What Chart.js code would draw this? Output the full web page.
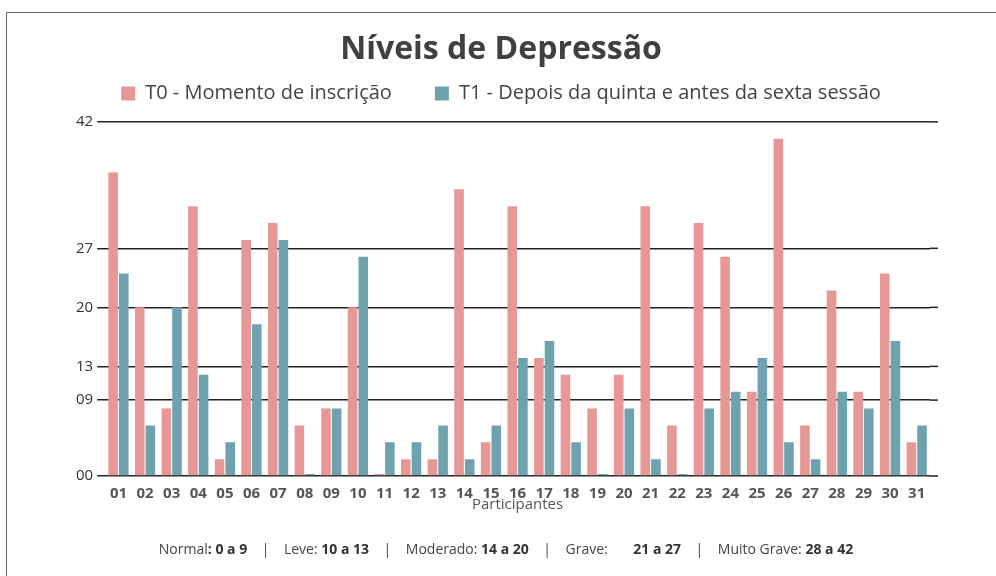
<!DOCTYPE html>
<html>
<head>
<meta charset="utf-8">
<script src="https://cdn.jsdelivr.net/npm/chart.js@4"></script>
<style>
  html, body { margin: 0; padding: 0; background: #fff; overflow: hidden; }
  #wrap { position: relative; width: 996px; height: 576px; overflow: hidden; }
  #frame { position: absolute; left: 6px; top: 12px; width: 1000px; height: 600px;
           border-top: 1.5px solid #666; border-left: 1.5px solid #666; }
  #footer { position: absolute; left: 0; width: 1012px; top: 539px; text-align: center;
            font-family: "Open Sans", sans-serif; font-size: 14px; color: #444; white-space: pre; }
  #footer b { font-weight: 700; color: #333; }
</style>
</head>
<body>
<div id="wrap">
  <div id="frame"></div>
  <canvas id="chart" width="996" height="576" style="position:absolute;left:0;top:0"></canvas>
  <div id="footer">Normal<b>: 0 a 9</b>    |    Leve: <b>10 a 13</b>    |    Moderado: <b>14 a 20</b>    |    Grave:       <b>21 a 27</b>    |    Muito Grave: <b>28 a 42</b></div>
</div>
<script>
// Participants 01..31
const participants = ['01','02','03','04','05','06','07','08','09','10','11','12','13','14','15','16',
                      '17','18','19','20','21','22','23','24','25','26','27','28','29','30','31'];

// T0 - at enrolment
const t0Scores = [36, 20, 8, 32, 2, 28, 30, 6, 8, 20, 0, 2, 2, 34, 4, 32,
                  14, 12, 8, 12, 32, 6, 30, 26, 10, 40, 6, 22, 10, 24, 4];

// T1 - after 5th session, before 6th
const t1Scores = [24, 6, 20, 12, 4, 18, 28, 0, 8, 26, 4, 4, 6, 2, 6, 14,
                  16, 4, 0, 8, 2, 0, 8, 10, 14, 4, 2, 10, 8, 16, 6];

const yTicks = [0, 9, 13, 20, 27, 42];

const seriesLabels = ['T0 - Momento de inscrição', 'T1 - Depois da quinta e antes da sexta sessão'];

// stretch the horizontal rules a bit past the right edge, like the original
const extendGrid = {
    id: 'extendGrid',
    afterDraw(chart) {
        const y = chart.scales.y, area = chart.chartArea, ctx = chart.ctx;
        ctx.save();
        ctx.strokeStyle = '#222';
        ctx.lineWidth = 1.5;
        yTicks.forEach(v => {
            const py = y.getPixelForValue(v);
            ctx.beginPath();
            ctx.moveTo(area.right, py);
            ctx.lineTo(area.right + 8, py);
            ctx.stroke();
        });
        ctx.restore();
    }
};

new Chart(document.getElementById('chart'), {
    type: 'bar',
    data: {
        labels: participants,
        datasets: [
            { label: seriesLabels[0], data: t0Scores, backgroundColor: '#e79795', minBarLength: 2 },
            { label: seriesLabels[1], data: t1Scores, backgroundColor: '#6ea2ae', minBarLength: 2 }
        ]
    },
    options: {
        responsive: false, animation: false,
        layout: { padding: { top: 14, left: 72, right: 66, bottom: 62 } },
        plugins: {
            title: {
                display: true, text: 'Níveis de Depressão', color: '#404040',
                font: { family: 'Open Sans', size: 32, weight: 'bold' },
                padding: { top: 17, bottom: -29 }
            },
            legend: {
                labels: {
                    color: '#444', boxWidth: 14, boxHeight: 14, padding: 43,
                    font: { family: 'Open Sans', size: 20 }
                }
            },
            tooltip: { enabled: false }
        },
        scales: {
            x: {
                categoryPercentage: 0.72, barPercentage: 0.9,
                grid: { display: false },
                border: { display: false },
                ticks: { color: '#555', padding: 1, font: { family: 'Open Sans', size: 15, weight: 'bold' } },
                title: { display: true, text: 'Participantes', color: '#555', padding: { top: -8, bottom: 0 },
                         font: { family: 'Open Sans', size: 15 } }
            },
            y: {
                min: 0, max: 43,
                afterBuildTicks: s => { s.ticks = yTicks.map(v => ({ value: v })); },
                border: { display: false },
                grid: { color: '#222', lineWidth: 1.5, tickLength: 8 },
                ticks: {
                    color: '#333', padding: 4,
                    font: { family: 'Open Sans', size: 15 },
                    callback: v => String(v).padStart(2, '0')
                }
            }
        }
    },
    plugins: [extendGrid]
});
</script>
</body>
</html>
